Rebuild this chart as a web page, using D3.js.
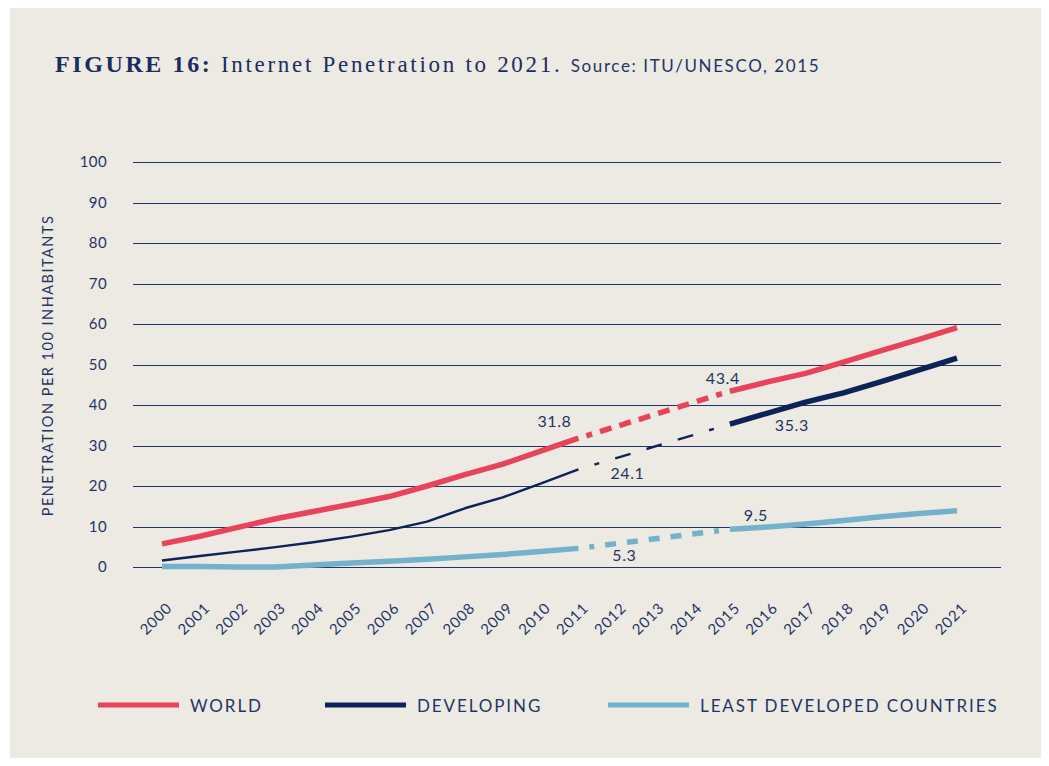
<!DOCTYPE html>
<html>
<head>
<meta charset="utf-8">
<script src="https://cdn.jsdelivr.net/npm/d3@7"></script>
<style>
  body { margin: 0; background: #fff; }
  text { font-family: Lato, "Open Sans", sans-serif; fill: #1f3566; }
</style>
</head>
<body>
<svg id="chart"></svg>
<script>
// values (per 100 inhabitants), 2012-2014 are the dashed projection
const years = [2000, 2001, 2002, 2003, 2004, 2005, 2006, 2007, 2008, 2009, 2010,
               2011, 2012, 2013, 2014, 2015, 2016, 2017, 2018, 2019, 2020, 2021]
const world      = [5.7, 7.6, 9.8, 11.9, 13.7, 15.5, 17.4, 20.0, 22.8, 25.4, 28.6,
                    31.8, null, null, null, 43.4, 45.7, 47.8, 50.6, 53.4, 56.2, 59.1]
const developing = [1.6, 2.7, 3.8, 4.9, 6.1, 7.5, 9.1, 11.2, 14.5, 17.2, 20.6,
                    24.1, null, null, null, 35.3, 38.0, 40.7, 43.0, 45.8, 48.7, 51.6]
const ldc        = [0.1, 0.1, 0.0, 0.0, 0.5, 1.0, 1.4, 1.9, 2.5, 3.1, 3.8,
                    4.6, null, null, null, 9.3, 9.9, 10.6, 11.5, 12.4, 13.2, 13.9]
const yTicks = [0, 10, 20, 30, 40, 50, 60, 70, 80, 90, 100]
const seriesNames = ['WORLD', 'DEVELOPING', 'LEAST DEVELOPED COUNTRIES']
const annotations = [
  {series: 0, year: 2011, text: '31.8'},
  {series: 0, year: 2015, text: '43.4'},
  {series: 1, year: 2011, text: '24.1'},
  {series: 1, year: 2015, text: '35.3'},
  {series: 2, year: 2011, text: '5.3'},
  {series: 2, year: 2015, text: '9.5'}
]
const projStart = 2011, projEnd = 2015

// styling
const labelOffsets = [[-24, -11], [-7, -7], [49, 10], [62, 7], [46, 13], [26, -8]]
const colors = ['#e8435a', '#0d2257', '#74b2cb']
const styles = [
  {early: 5.5, late: 5.5, dash: 5.5, d: 12, g: 7, s: 6},
  {early: 2.4, late: 5.5, dash: 2.4, d: 16, g: 13, s: 5},
  {early: 5.5, late: 5.5, dash: 5.5, d: 11, g: 9, s: 5}
]
const allSeries = [world, developing, ldc]

const W = 1049, H = 766
const svg = d3.select('#chart').attr('width', W).attr('height', H)

svg.append('rect').attr('x', 10).attr('y', 8).attr('width', 1031).attr('height', 750)
  .attr('fill', '#edeae3')

// title
let title = svg.append('text').attr('x', 55).attr('y', 72)
title.append('tspan').text('FIGURE 16: ')
  .style('font-family', '"Liberation Serif", serif').style('font-weight', 'bold')
  .style('font-size', '24px').style('letter-spacing', '2.6px').attr('fill', '#1b2d5e')
title.append('tspan').text('Internet Penetration to 2021. ')
  .style('font-family', '"Liberation Serif", serif')
  .style('font-size', '23px').style('letter-spacing', '2.7px').attr('fill', '#1b2d5e')
title.append('tspan').text('Source: ITU/UNESCO, 2015')
  .style('font-size', '17px').style('letter-spacing', '1.6px')

let x = d3.scaleLinear().domain([2000, 2021]).range([162, 957])
let y = d3.scaleLinear().domain([0, 100]).range([567, 162])

// grid
svg.append('g').selectAll('line').data(yTicks).enter().append('line')
  .attr('x1', 133).attr('x2', 1001)
  .attr('y1', d => Math.round(y(d)) + 0.5).attr('y2', d => Math.round(y(d)) + 0.5)
  .attr('stroke', '#1f3566').attr('stroke-width', 1.2)

svg.append('g').selectAll('text').data(yTicks).enter().append('text')
  .attr('x', 107).attr('y', d => y(d) + 5)
  .attr('text-anchor', 'end').style('font-size', '15px').style('letter-spacing', '0.4px')
  .text(d => d)

svg.append('text')
  .attr('transform', 'translate(53,' + (y(50) + 1) + ') rotate(-90)')
  .attr('text-anchor', 'middle').style('font-size', '14.5px').style('letter-spacing', '1.5px')
  .text('PENETRATION PER 100 INHABITANTS')

// x labels
svg.append('g').selectAll('text').data(years).enter().append('text')
  .attr('transform', d => 'translate(' + (x(d) + 11) + ',609) rotate(-45)')
  .attr('text-anchor', 'end').style('font-size', '15px').style('letter-spacing', '0.8px')
  .text(d => d)

function dashPattern(L, d, g, s) {
  let k = Math.max(0, Math.floor((L - 2 * s - 3 * g) / (d + g)))
  let gg = g + (L - 2 * s - 3 * g - k * (d + g)) / (k + 3)
  let arr = [0, gg, s, gg]
  for (let i = 0; i < k; i++) arr.push(d, gg)
  arr.push(s, gg)
  return arr.join(',')
}

let line = d3.line()
  .x(d => x(d.year))
  .y(d => y(d.value))

allSeries.forEach((vals, i) => {
  let pts = years.map((yr, j) => ({year: yr, value: vals[j]})).filter(p => p.value !== null)
  let early = pts.filter(p => p.year <= projStart)
  let late = pts.filter(p => p.year >= projEnd)
  let proj = [early[early.length - 1], late[0]]
  let st = styles[i]

  svg.append('path').datum(early).attr('d', line)
    .attr('fill', 'none').attr('stroke', colors[i]).attr('stroke-width', st.early)
    .attr('stroke-linejoin', 'round')
  svg.append('path').datum(late).attr('d', line)
    .attr('fill', 'none').attr('stroke', colors[i]).attr('stroke-width', st.late)
    .attr('stroke-linejoin', 'round')
  let p = svg.append('path').datum(proj).attr('d', line)
    .attr('fill', 'none').attr('stroke', colors[i]).attr('stroke-width', st.dash)
  let L = p.node().getTotalLength()
  p.attr('stroke-dasharray', dashPattern(L, st.d, st.g, st.s))
})

// value labels
svg.append('g').selectAll('text').data(annotations).enter().append('text')
  .attr('x', (d, i) => x(d.year) + labelOffsets[i][0])
  .attr('y', (d, i) => y(allSeries[d.series][years.indexOf(d.year)]) + labelOffsets[i][1])
  .attr('text-anchor', 'middle').style('font-size', '16px').style('letter-spacing', '0.6px')
  .text(d => d.text)

// legend
const legendX = [98, 325, 608]
let lg = svg.append('g').selectAll('g').data(seriesNames).enter().append('g')
  .attr('transform', (d, i) => 'translate(' + legendX[i] + ',705)')
lg.append('line').attr('x1', 0).attr('x2', 81)
  .attr('stroke', (d, i) => colors[i]).attr('stroke-width', 5)
lg.append('text').attr('x', 92).attr('y', 6.5)
  .style('font-size', '17px').style('letter-spacing', '1.9px')
  .text(d => d)
</script>
</body>
</html>
